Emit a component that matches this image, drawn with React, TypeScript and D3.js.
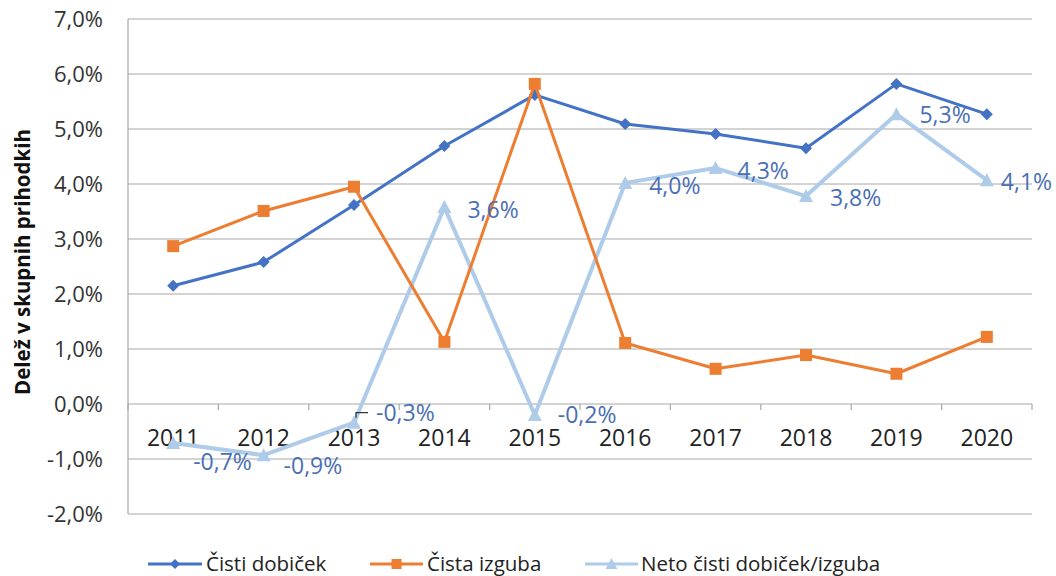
import React from "react";
import * as d3 from "d3";

const years = ["2011", "2012", "2013", "2014", "2015", "2016", "2017", "2018", "2019", "2020"];
const cistiDobicek = [2.15, 2.58, 3.62, 4.69, 5.62, 5.09, 4.91, 4.65, 5.82, 5.27];
const cistaIzguba = [2.87, 3.51, 3.95, 1.13, 5.82, 1.11, 0.64, 0.89, 0.55, 1.22];
const neto = [-0.71, -0.93, -0.34, 3.58, -0.2, 4.02, 4.29, 3.78, 5.27, 4.07];
const yTicks = [-2, -1, 0, 1, 2, 3, 4, 5, 6, 7];
const seriesNames = ["Čisti dobiček", "Čista izguba", "Neto čisti dobiček/izguba"];

// label nudges (layout only)
const labelNudge: [number, number][] = [
  [20, 19], [20, 11], [22, -10], [23, 3], [23, 0], [24, 3], [22, 3], [24, 2], [23, 1], [14, 2],
];

const W = 1056, H = 576;
const FONT = "'Open Sans', 'Liberation Sans', sans-serif";
const BLUE = "#4472C4", ORANGE = "#ED7D31", LIGHT = "#AECBE9", LABEL = "#4A6FB5", GRID = "#A8A8A8";

const fmt = (v: number) => (v < 0 ? "-" : "") + Math.abs(v).toFixed(1).replace(".", ",") + "%";

function Marker({ kind, x, y, color, s = 6 }: { kind: string; x: number; y: number; color: string; s?: number }) {
  if (kind === "diamond")
    return <path d={`M${x},${y - s}L${x + s},${y}L${x},${y + s}L${x - s},${y}Z`} fill={color} />;
  if (kind === "square")
    return <rect x={x - s} y={y - s} width={2 * s} height={2 * s} fill={color} />;
  return <path d={`M${x},${y - s - 1}L${x + s + 1},${y + s}L${x - s - 1},${y + s}Z`} fill={color} />;
}

export default function App() {
  const x = d3.scaleBand<string>().domain(years).range([128, 1032]);
  const y = d3.scaleLinear().domain([-2, 7]).range([514, 19]);
  const cx = (yr: string) => (x(yr) as number) + x.bandwidth() / 2;
  const line = d3.line<number>().x((_, i) => cx(years[i])).y((v) => y(v));

  const series = [
    { name: seriesNames[2], data: neto, color: LIGHT, kind: "triangle", w: 4 },
    { name: seriesNames[0], data: cistiDobicek, color: BLUE, kind: "diamond", w: 3 },
    { name: seriesNames[1], data: cistaIzguba, color: ORANGE, kind: "square", w: 3 },
  ];

  const legend = [
    { name: seriesNames[0], color: BLUE, kind: "diamond", x0: 148, x1: 202, tx: 206, w: 3 },
    { name: seriesNames[1], color: ORANGE, kind: "square", x0: 370, x1: 423, tx: 427, w: 3 },
    { name: seriesNames[2], color: LIGHT, kind: "triangle", x0: 585, x1: 638, tx: 641, w: 3 },
  ];

  const boundaries = years.map((yr) => x(yr) as number).concat([1032]);

  return (
    <svg width={W} height={H} style={{ position: "absolute", left: 0, top: 0, background: "#fff" }} fontFamily={FONT}>
      {yTicks.map((t) => (
        <g key={t}>
          <line x1={128} x2={1032} y1={y(t)} y2={y(t)} stroke={GRID} strokeWidth={1.2} />
          <text x={103} y={y(t)} dy="0.36em" textAnchor="end" fontSize={22} fill="#333">
            {fmt(t)}
          </text>
        </g>
      ))}
      <line x1={128} x2={128} y1={y(7)} y2={y(-2)} stroke={GRID} strokeWidth={1.2} />
      {boundaries.map((b, i) => (
        <line key={i} x1={b} x2={b} y1={y(0)} y2={y(0) + 6} stroke={GRID} strokeWidth={1.2} />
      ))}
      {years.map((yr) => (
        <text key={yr} x={cx(yr)} y={438} dy="0.36em" textAnchor="middle" fontSize={23} fill="#222">
          {yr}
        </text>
      ))}
      <text
        transform={`translate(23,262) rotate(-90)`}
        textAnchor="middle"
        dy="0.36em"
        fontSize={20.5}
        fontWeight="bold"
        fill="#111"
      >
        Delež v skupnih prihodkih
      </text>

      {series.map((s) => (
        <g key={s.name}>
          <path d={line(s.data) as string} fill="none" stroke={s.color} strokeWidth={s.w} strokeLinejoin="round" />
          {s.data.map((v, i) => (
            <Marker key={i} kind={s.kind} x={cx(years[i])} y={y(v)} color={s.color} />
          ))}
        </g>
      ))}

      {/* leader line for 2013 label */}
      <path d={`M${cx("2013") + 2},${y(neto[2]) - 5}V${y(neto[2]) - 10}H${cx("2013") + 14}`} fill="none" stroke="#333" strokeWidth={1.2} />

      {neto.map((v, i) => (
        <text
          key={i}
          x={cx(years[i]) + labelNudge[i][0]}
          y={y(v) + labelNudge[i][1]}
          dy="0.36em"
          fontSize={23}
          fill={LABEL}
        >
          {fmt(v)}
        </text>
      ))}

      {legend.map((l) => (
        <g key={l.name}>
          <line x1={l.x0} x2={l.x1} y1={564} y2={564} stroke={l.color} strokeWidth={l.w} />
          <Marker kind={l.kind} x={(l.x0 + l.x1) / 2} y={564} color={l.color} s={5} />
          <text x={l.tx} y={564} dy="0.36em" fontSize={20.5} fill="#222">
            {l.name}
          </text>
        </g>
      ))}
    </svg>
  );
}
